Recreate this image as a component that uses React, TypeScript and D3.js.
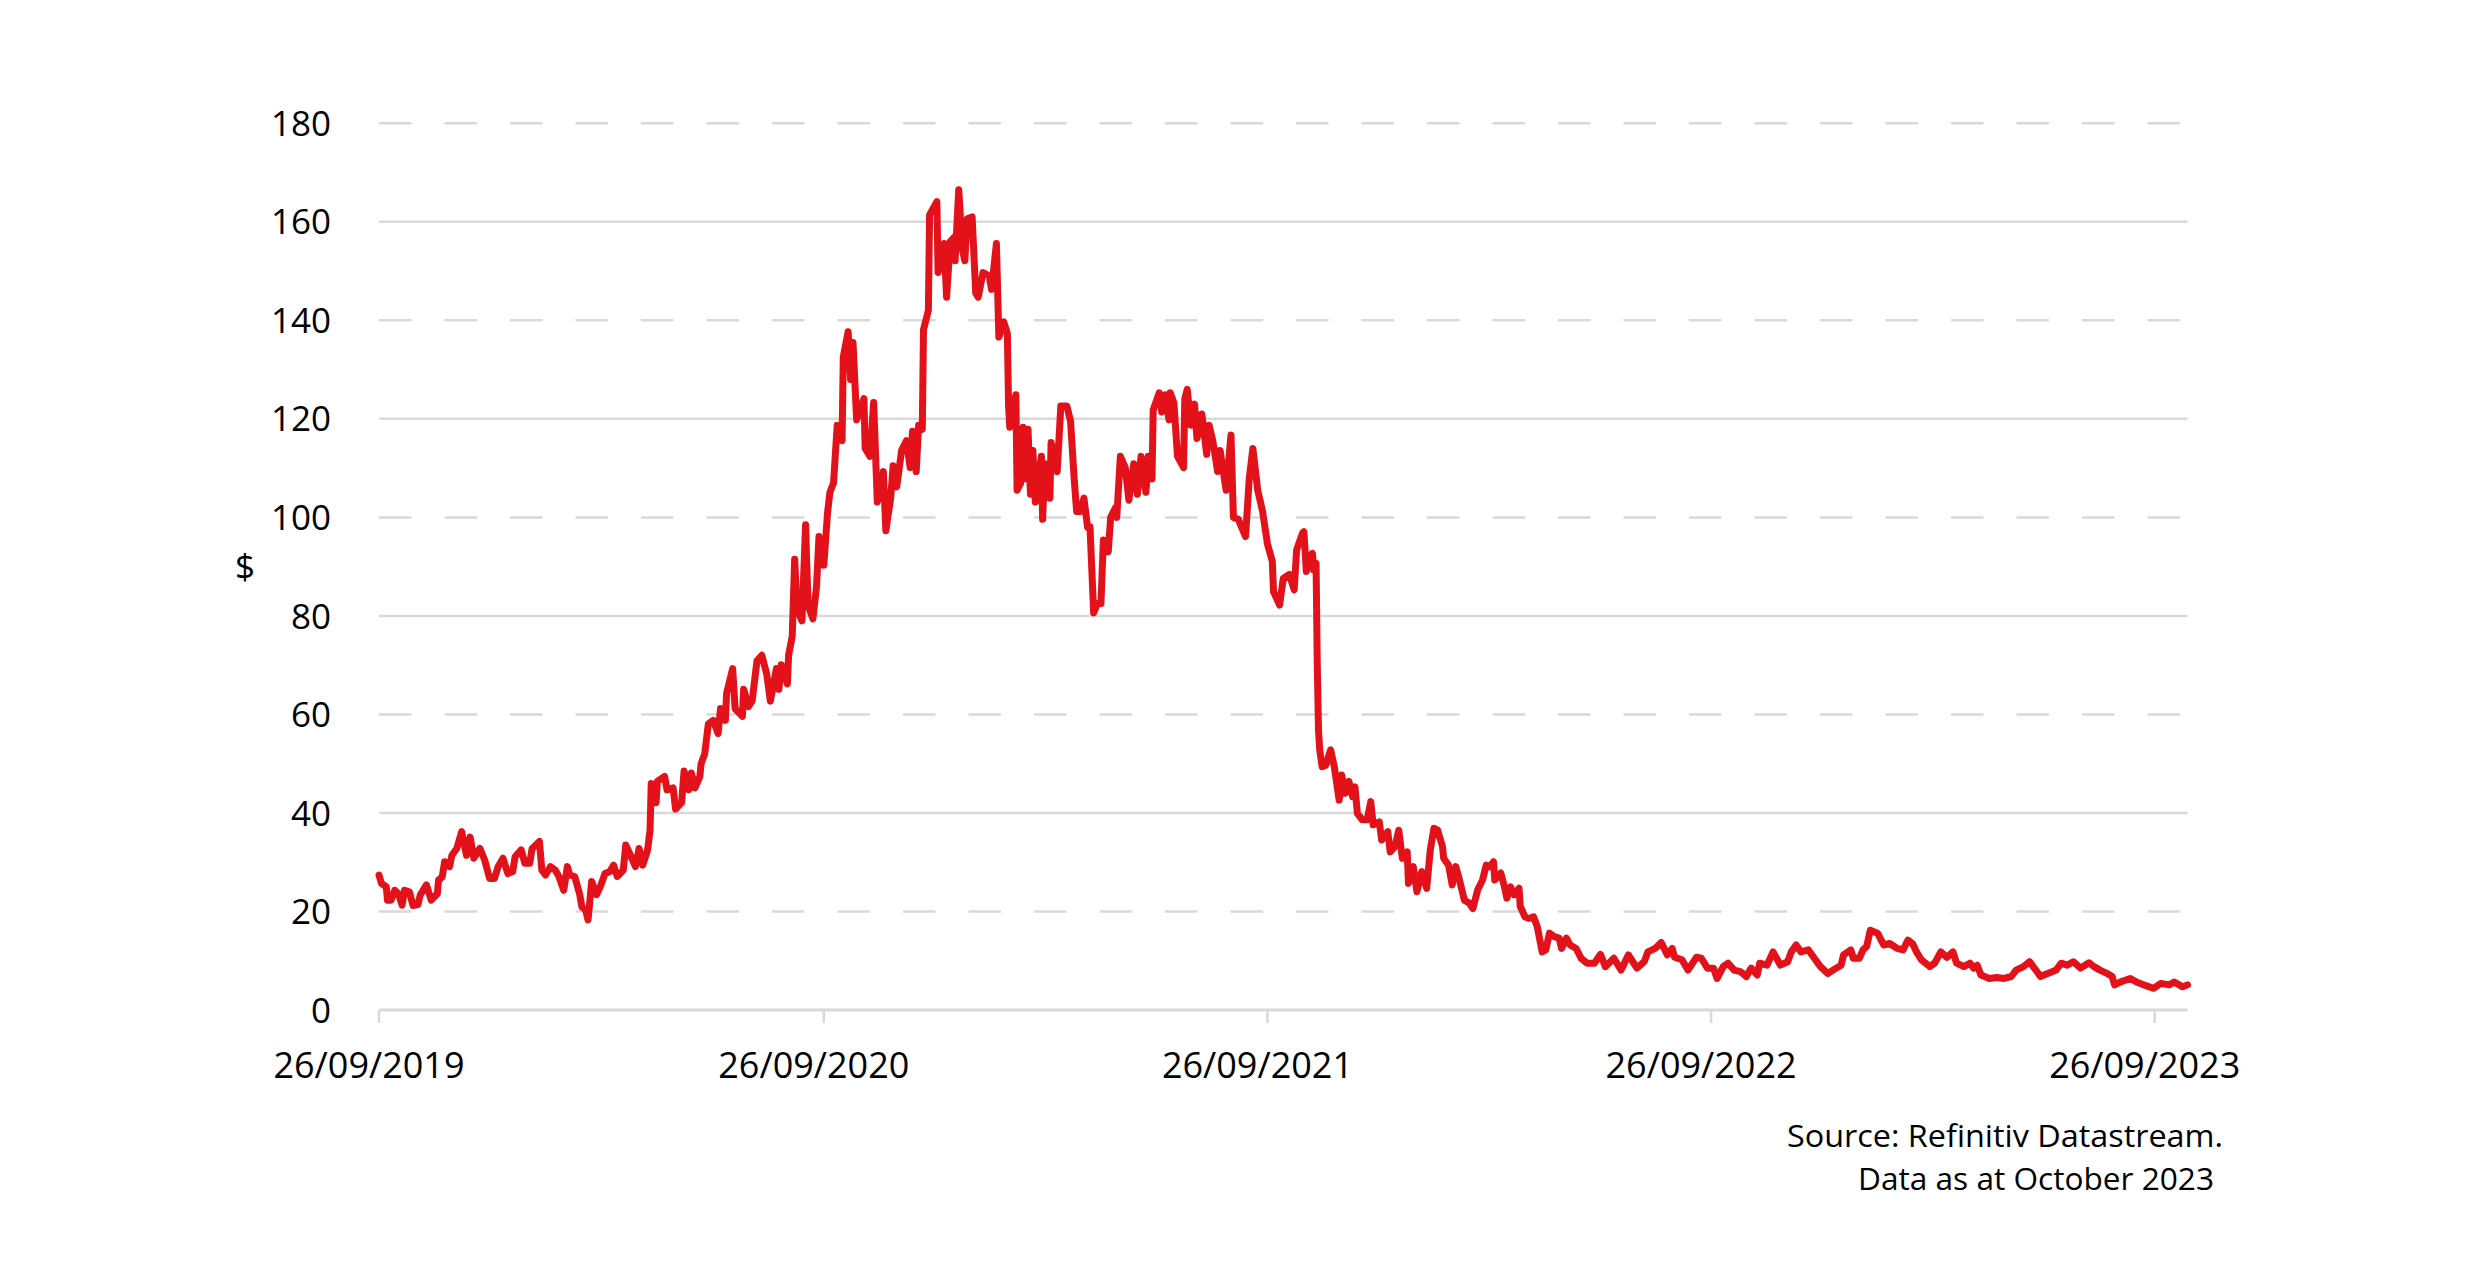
import React from "react";
import * as d3 from "d3";

// Days since 26/09/2019 for each observation
const dayOffsets = [
  0, 2, 6, 7, 10, 13, 16, 19, 21, 25, 28, 32, 34, 39, 43, 48, 49, 52, 54, 58, 60, 64, 68, 72, 75, 78, 83, 87, 91, 95, 98,
  102, 106, 110, 112, 117, 120, 124, 126, 132, 134, 137, 141, 145, 148, 152, 155, 157, 161, 165, 167, 170, 172, 175, 179,
  182, 186, 190, 193, 196, 201, 203, 208, 211, 214, 217, 221, 223, 224, 228, 229, 235, 237, 242, 244, 249, 251, 255, 257,
  260, 264, 265, 268, 271, 275, 279, 281, 285, 286, 291, 293, 299, 300, 304, 307, 311, 315, 319, 322, 327, 329, 331, 336,
  337, 340, 342, 344, 348, 351, 353, 357, 360, 362, 366, 369, 371, 374, 377, 381, 382, 386, 388, 390, 393, 399, 400, 404,
  407, 410, 415, 417, 421, 423, 426, 430, 434, 437, 439, 442, 444, 447, 448, 452, 453, 459, 460, 465, 467, 470, 473, 474,
  477, 480, 482, 484, 488, 491, 493, 497, 502, 504, 508, 510, 514, 517, 518, 519, 524, 525, 528, 530, 533, 534, 536, 538,
  540, 545, 546, 548, 552, 553, 558, 561, 566, 569, 572, 574, 577, 580, 583, 585, 588, 591, 594, 596, 600, 602, 606, 607,
  610, 614, 617, 621, 624, 627, 631, 633, 636, 637, 642, 644, 647, 650, 651, 654, 657, 662, 663, 665, 668, 671, 673, 677,
  681, 683, 686, 690, 692, 697, 701, 703, 707, 713, 716, 719, 723, 727, 731, 735, 736, 741, 744, 749, 753, 755, 756, 760,
  761, 763, 765, 768, 769, 771, 772, 773, 774, 776, 779, 783, 786, 788, 790, 792, 795, 798, 801, 803, 805, 809, 813, 816,
  818, 823, 825, 830, 832, 836, 839, 842, 846, 847, 851, 854, 858, 862, 865, 868, 871, 875, 876, 880, 883, 886, 889, 893,
  897, 900, 904, 908, 911, 914, 917, 918, 923, 926, 928, 931, 934, 938, 939, 943, 946, 950, 953, 957, 960, 963, 967, 971,
  973, 977, 980, 985, 989, 994, 1000, 1005, 1009, 1016, 1022, 1028, 1035, 1041, 1044, 1050, 1055, 1060, 1064, 1066, 1072,
  1077, 1084, 1088, 1093, 1098, 1101, 1106, 1110, 1115, 1120, 1125, 1129, 1134, 1136, 1142, 1147, 1153, 1159, 1162, 1166,
  1170, 1176, 1181, 1186, 1192, 1199, 1203, 1205, 1211, 1213, 1218, 1221, 1224, 1227, 1230, 1233, 1238, 1243, 1249, 1254,
  1258, 1262, 1265, 1269, 1276, 1280, 1285, 1290, 1295, 1298, 1304, 1309, 1312, 1315, 1318, 1325, 1331, 1337, 1343, 1347,
  1353, 1358, 1362, 1367, 1373, 1380, 1384, 1389, 1394, 1400, 1407, 1411, 1416, 1422, 1426, 1428, 1433, 1441, 1446, 1452,
  1460, 1466, 1473, 1477, 1484, 1488,
];

// Price ($)
const prices = [
  27.4, 25.7, 25, 22.3, 22.3, 24.3, 23.6, 21.3, 24.3, 24, 21.2, 21.4, 23.4, 25.4, 22.3, 23.6, 26.4, 27, 30.1, 29.1, 31.4,
  32.8, 36.2, 31.4, 35.1, 30.8, 32.8, 30.4, 26.7, 26.7, 29.1, 30.8, 27.7, 28.1, 31.1, 32.5, 29.8, 29.8, 32.8, 34.2, 28.4,
  27.4, 29.1, 28.4, 27.1, 24.3, 29.1, 27.4, 27.1, 23.6, 20.9, 20.3, 18.3, 26.1, 23.4, 25, 27.7, 28.1, 29.4, 27.1, 28.4,
  33.5, 30.8, 29.1, 32.8, 29.4, 32.5, 36.5, 46, 42.1, 46.4, 47.4, 44.7, 45.1, 40.8, 42.1, 48.5, 44.7, 48.1, 45.1, 47.4, 50,
  52, 58.1, 58.8, 56.1, 61.2, 58.8, 64.3, 69.3, 61.2, 59.6, 65.1, 61.6, 62.7, 70.9, 72, 68.2, 62.7, 69.3, 65.1, 70.1, 66.2,
  72, 75.9, 91.5, 81.4, 79, 98.5, 82.2, 79.4, 86, 96.1, 90.3, 100.8, 105.1, 107, 118.7, 115.6, 132.6, 137.7, 128, 135.5,
  119.8, 124.1, 114, 112.4, 123.3, 103.1, 109.3, 97.3, 103.9, 110.5, 106.2, 113.6, 115.6, 110.1, 117.5, 109.3, 118.7,
  117.9, 138.1, 142, 161.4, 164.1, 149.7, 155.6, 144.7, 156, 156.8, 152.1, 166.5, 154.4, 152.1, 160.6, 161, 145.5, 144.7,
  149.7, 149, 146.3, 155.6, 136.6, 139.7, 137.3, 122.6, 118.3, 124.9, 105.5, 107, 118.3, 107.8, 117.9, 104.7, 113.6, 103.1,
  112.4, 99.6, 110.9, 103.9, 115.2, 109.3, 122.6, 122.6, 119.5, 107.8, 101.2, 101.2, 103.9, 98, 98.1, 80.6, 82.5, 82.5,
  95.4, 93, 100, 102, 100, 112.4, 110.1, 103.5, 110.9, 104.7, 112.4, 105.1, 112.4, 107.8, 121.8, 125.3, 121.4, 124.9,
  119.8, 125.3, 123.3, 112.4, 110.1, 124.1, 126, 118.7, 123, 116, 121, 112.8, 118.7, 115.6, 109.3, 113.6, 105.5, 116.7,
  100, 99.6, 96.1, 107.8, 114, 105.5, 101.2, 94.6, 91.1, 84.9, 82.2, 87.6, 88.4, 85.3, 93.4, 94.1, 96.9, 97.1, 89, 92,
  92.7, 89.3, 90.7, 70, 56.9, 52.8, 49.4, 49.7, 52.8, 49.4, 46, 42.6, 47.7, 44, 46.4, 43.3, 45.3, 39.9, 38.6, 38.6, 42.3,
  37.6, 38.2, 34.5, 36.2, 32.1, 33.2, 36.5, 30.8, 32.1, 25.7, 29.1, 24, 28.1, 24.7, 32.5, 36.9, 36.5, 33.2, 30.8, 29.4,
  25.4, 29.1, 26.4, 22.3, 21.7, 20.6, 24.4, 26.4, 29.4, 29.1, 30.1, 26.4, 27.8, 25, 22.7, 25, 23.4, 24.7, 21, 18.9, 18.6,
  18.9, 16.9, 11.8, 12.2, 15.6, 14.9, 14.6, 12.5, 14.6, 13.2, 12.5, 10.5, 9.5, 9.5, 11.3, 8.8, 10.5, 8.1, 11.2, 8.5, 9.8,
  11.8, 12.5, 13.7, 11.2, 12.5, 10.7, 10.2, 8.1, 10.7, 10.5, 8.5, 8.5, 6.4, 8.8, 9.5, 8.1, 7.8, 6.8, 8.5, 7.1, 9.5, 9.1,
  11.8, 9.1, 9.8, 11.8, 13.2, 11.8, 12.2, 10.5, 8.8, 7.4, 8.5, 9.1, 11.2, 12.2, 10.5, 10.5, 12.2, 12.9, 16.2, 15.9, 15.6,
  13.2, 13.5, 12.5, 12.2, 14.2, 13.4, 11.8, 10.2, 8.8, 9.5, 11.8, 10.7, 11.8, 9.5, 8.8, 9.5, 8.5, 9.1, 7.1, 6.4, 6.6, 6.4,
  6.8, 8.1, 8.8, 9.8, 8.5, 6.8, 7.4, 8.1, 9.5, 9.1, 9.8, 8.5, 9.6, 8.8, 8.1, 7.4, 6.8, 5.1, 5.7, 6.4, 5.7, 5.1, 4.4, 5.4,
  5.1, 5.7, 4.7, 5.1,
];

const yTicks = [0, 20, 40, 60, 80, 100, 120, 140, 160, 180];
const xTickLabels = ["26/09/2019", "26/09/2020", "26/09/2021", "26/09/2022", "26/09/2023"];
const yAxisTitle = "$";
const sourceLines = ["Source: Refinitiv Datastream.", "Data as at October 2023"];

const FONT = "'Open Sans', 'Noto Sans', sans-serif";
const GRID = "#d9d9d9";
const RED = "#e3111a";

export default function App() {
  const start = new Date(2019, 8, 26);
  const end = d3.timeDay.offset(start, 1488);
  const x = d3.scaleTime().domain([start, end]).range([379, 2187.5]);
  const y = d3.scaleLinear().domain([0, 180]).range([1010, 123.3]);
  const parse = d3.timeParse("%d/%m/%Y");

  const data = dayOffsets.map((d, i) => ({ date: d3.timeDay.offset(start, d), v: prices[i] }));
  const line = d3
    .line<{ date: Date; v: number }>()
    .x((d) => x(d.date))
    .y((d) => y(d.v));

  const [x0, x1] = x.range();

  return (
    <svg
      width={2480}
      height={1280}
      style={{ position: "absolute", left: 0, top: 0, background: "#fff" }}
      fontFamily={FONT}
    >
      <rect width={2480} height={1280} fill="#fff" />
      {yTicks.map((t) =>
        t === 0 ? null : (
          <line
            key={t}
            x1={x0}
            x2={x1}
            y1={y(t)}
            y2={y(t)}
            stroke={GRID}
            strokeWidth={2.5}
            strokeDasharray={(t / 20) % 2 === 1 ? "32.5 33" : undefined}
          />
        )
      )}
      {/* x axis */}
      <line x1={x0} x2={x1} y1={y(0)} y2={y(0)} stroke={GRID} strokeWidth={3} />
      {xTickLabels.map((lab) => {
        const xp = x(parse(lab) as Date);
        return (
          <g key={lab}>
            <line x1={xp} x2={xp} y1={y(0)} y2={y(0) + 13} stroke={GRID} strokeWidth={2.5} />
            <text x={xp - 10} y={1078} textAnchor="middle" fontSize={36} fill="#000">
              {lab}
            </text>
          </g>
        );
      })}
      {yTicks.map((t) => (
        <text key={t} x={331} y={y(t)} dy="0.36em" textAnchor="end" fontSize={35} fill="#000">
          {t}
        </text>
      ))}
      <text x={245} y={(y(0) + y(180)) / 2} dy="0.36em" textAnchor="middle" fontSize={35} fill="#000">
        {yAxisTitle}
      </text>
      <path
        d={line(data) || ""}
        fill="none"
        stroke={RED}
        strokeWidth={7}
        strokeLinejoin="round"
        strokeLinecap="round"
      />
      <text
        x={2223}
        y={1147}
        textAnchor="end"
        fontSize={31}
        fill="#000"
        textLength={436}
        lengthAdjust="spacingAndGlyphs"
      >
        {sourceLines[0]}
      </text>
      <text
        x={2214}
        y={1190}
        textAnchor="end"
        fontSize={31}
        fill="#000"
        textLength={356}
        lengthAdjust="spacingAndGlyphs"
      >
        {sourceLines[1]}
      </text>
    </svg>
  );
}
